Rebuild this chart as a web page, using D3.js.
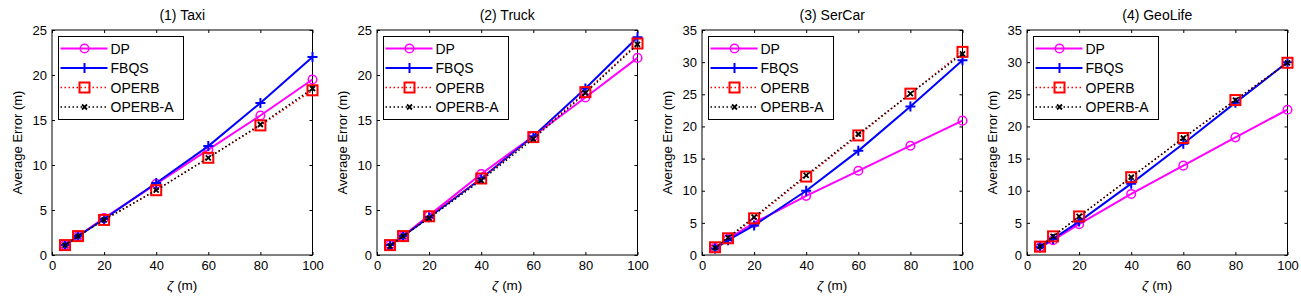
<!DOCTYPE html>
<html>
<head>
<meta charset="utf-8">
<script src="https://cdn.jsdelivr.net/npm/d3@7"></script>
<style>
  body { margin: 0; background: #fff; }
  svg { font-family: "Liberation Sans", Arial, sans-serif; }
</style>
</head>
<body>
<svg id="chart" width="1301" height="300"></svg>
<script>
// zeta values (m)
const zetas = [5, 10, 20, 40, 60, 80, 100]
const titles = ["(1) Taxi", "(2) Truck", "(3) SerCar", "(4) GeoLife"]
const yMaxes = [25, 25, 35, 35]
const seriesNames = ["DP", "FBQS", "OPERB", "OPERB-A"]

// one row per panel
const dpErr = [
    [1.1, 2.1, 4.1, 7.9, 11.7, 15.5, 19.5],
    [1.1, 2.1, 4.4, 9.0, 13.2, 17.5, 21.9],
    [1.1, 2.5, 5.0, 9.2, 13.1, 17.0, 20.9],
    [1.2, 2.3, 4.8, 9.5, 13.9, 18.3, 22.6]
]
const fbqsErr = [
    [1.1, 2.1, 4.0, 8.0, 12.1, 16.9, 22.0],
    [1.1, 2.1, 4.2, 8.5, 13.2, 18.5, 24.2],
    [1.0, 2.3, 4.6, 10.0, 16.2, 23.1, 30.3],
    [1.2, 2.5, 5.2, 11.1, 17.3, 23.7, 30.0]
]
const operbErr = [
    [1.1, 2.1, 3.9, 7.2, 10.8, 14.4, 18.3],
    [1.1, 2.1, 4.3, 8.5, 13.1, 18.1, 23.5],
    [1.2, 2.6, 5.7, 12.2, 18.6, 25.1, 31.6],
    [1.3, 2.9, 6.0, 12.1, 18.2, 24.1, 29.9]
]
const operbAErr = [
    [1.1, 2.1, 3.9, 7.2, 10.8, 14.5, 18.5],
    [1.0, 2.1, 4.1, 8.3, 12.9, 18.0, 23.4],
    [1.1, 2.7, 5.9, 12.4, 18.8, 25.1, 31.3],
    [1.3, 2.9, 6.0, 12.1, 18.2, 24.1, 29.9]
]

const styles = [
    { color: "#ff00ff", width: 2, dash: null, marker: "circle" },
    { color: "#0000ff", width: 2, dash: null, marker: "plus" },
    { color: "#ff0000", width: 1.5, dash: "1.5,2.5", marker: "square" },
    { color: "#000000", width: 1.5, dash: "1.5,2.5", marker: "cross" }
]

const svg = d3.select("#chart")
const panelStep = 325,
    marginLeft = 52,
    plotW = 260.5,
    marginTop = 30,
    plotH = 225

function drawMarker(g, type, x, y, color) {
    if (type === "circle") {
        g.append("circle").attr("cx", x).attr("cy", y).attr("r", 4.3)
            .attr("fill", "none").attr("stroke", color).attr("stroke-width", 1.5)
    } else if (type === "plus") {
        g.append("path").attr("d", `M${x - 5},${y}H${x + 5}M${x},${y - 5}V${y + 5}`)
            .attr("stroke", color).attr("stroke-width", 2)
    } else if (type === "square") {
        g.append("rect").attr("x", x - 5).attr("y", y - 5).attr("width", 10).attr("height", 10)
            .attr("fill", "none").attr("stroke", color).attr("stroke-width", 2)
    } else {
        g.append("path").attr("d", `M${x - 2.5},${y - 2.5}L${x + 2.5},${y + 2.5}M${x - 2.5},${y + 2.5}L${x + 2.5},${y - 2.5}`)
            .attr("stroke", color).attr("stroke-width", 1.8)
    }
}

titles.forEach((title, p) => {
    const g = svg.append("g")
        .attr("transform", `translate(${p * panelStep + marginLeft},${marginTop})`)

    const x = d3.scaleLinear().domain([0, 100]).range([0, plotW])
    const y = d3.scaleLinear().domain([0, yMaxes[p]]).range([plotH, 0])

    // box
    g.append("rect").attr("width", plotW).attr("height", plotH)
        .attr("fill", "none").attr("stroke", "#000").attr("stroke-width", 1)

    // axes, ticks pointing inward (matlab style)
    g.append("g").attr("transform", `translate(0,${plotH})`)
        .call(d3.axisBottom(x).tickValues(d3.range(0, 101, 20)).tickSizeInner(-3).tickSizeOuter(0).tickPadding(6))
    g.append("g")
        .call(d3.axisLeft(y).tickValues(d3.range(0, yMaxes[p] + 1, 5)).tickSizeInner(-3).tickSizeOuter(0).tickPadding(5))
    g.append("g").attr("transform", `translate(${plotW},0)`)
        .call(d3.axisRight(y).tickValues(d3.range(0, yMaxes[p] + 1, 5)).tickSizeInner(-3).tickSizeOuter(0))
        .selectAll("text").remove()
    g.append("g")
        .call(d3.axisTop(x).tickValues(d3.range(0, 101, 20)).tickSizeInner(-3).tickSizeOuter(0))
        .selectAll("text").remove()
    g.selectAll(".domain").remove()
    g.selectAll(".tick line").attr("stroke", "#000")
    g.selectAll(".tick text").attr("fill", "#000").style("font-size", "13px")
        .style("font-family", "Liberation Sans, Arial, sans-serif")

    g.append("text").attr("x", plotW / 2).attr("y", -10)
        .attr("text-anchor", "middle").style("font-size", "14px").text(title)
    g.append("text").attr("x", plotW / 2).attr("y", plotH + 35)
        .attr("text-anchor", "middle").style("font-size", "13.5px")
        .html('<tspan font-style="italic">ζ</tspan> (m)')
    g.append("text")
        .attr("transform", `translate(-30,${plotH / 2}) rotate(-90)`)
        .attr("text-anchor", "middle").style("font-size", "13px")
        .text("Average Error (m)")

    const allSeries = [dpErr[p], fbqsErr[p], operbErr[p], operbAErr[p]]
    const line = d3.line().x((d, i) => x(zetas[i])).y(d => y(d))

    allSeries.forEach((vals, s) => {
        const st = styles[s]
        const sg = g.append("g")
        sg.append("path").datum(vals).attr("d", line)
            .attr("fill", "none").attr("stroke", st.color).attr("stroke-width", st.width)
            .attr("stroke-dasharray", st.dash)
        vals.forEach((v, i) => drawMarker(sg, st.marker, x(zetas[i]), y(v), st.color))
    })

    // legend
    const lg = g.append("g").attr("transform", "translate(6.5,6.5)")
    lg.append("rect").attr("width", 125).attr("height", 83)
        .attr("fill", "#fff").attr("stroke", "#000").attr("stroke-width", 1)
    seriesNames.forEach((name, s) => {
        const st = styles[s]
        const ly = 12 + s * 19.5
        lg.append("line").attr("x1", 2).attr("x2", 49).attr("y1", ly).attr("y2", ly)
            .attr("stroke", st.color).attr("stroke-width", st.width)
            .attr("stroke-dasharray", st.dash)
        drawMarker(lg, st.marker, 26, ly, st.color)
        lg.append("text").attr("x", 52).attr("y", ly + 5)
            .style("font-size", "14px").text(name)
    })
})
</script>
</body>
</html>
